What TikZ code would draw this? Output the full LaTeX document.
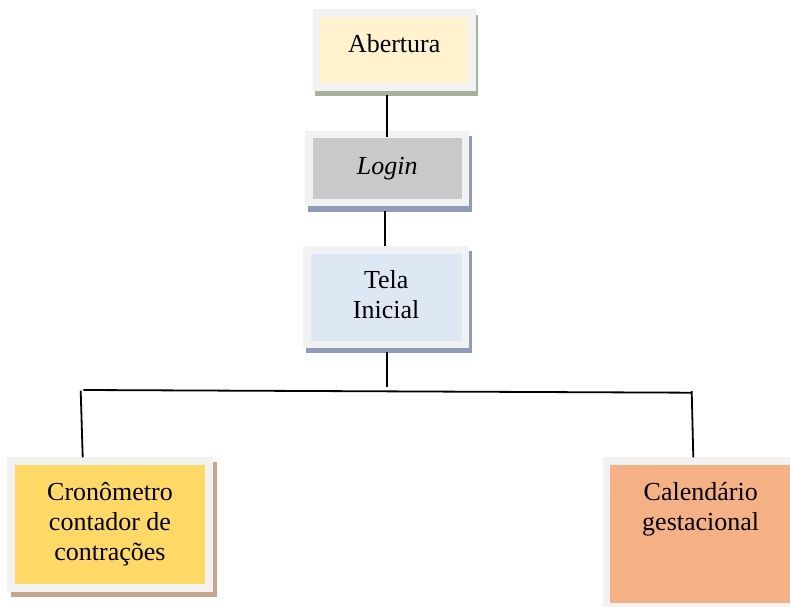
\documentclass[tikz,border=0pt]{standalone}
\usepackage{fontspec}
\setmainfont{Liberation Serif}
\usetikzlibrary{backgrounds}

\definecolor{framegray}{HTML}{F2F2F2}
\definecolor{fillAb}{HTML}{FFF2CC}
\definecolor{fillLo}{HTML}{C9C9C9}
\definecolor{fillTe}{HTML}{DEE8F4}
\definecolor{fillCr}{HTML}{FFD966}
\definecolor{fillCa}{HTML}{F4B183}
\definecolor{shadeGreen}{HTML}{A3B39C}
\definecolor{shadeBlue}{HTML}{8E9CB8}
\definecolor{shadeBrown}{HTML}{C9A58E}

\begin{document}
\begin{tikzpicture}[x=1pt,y=-1pt,
  panel/.style={draw=framegray, line width=7.5pt, outer sep=3.75pt, inner sep=0pt,
                align=center, font=\fontsize{26}{30}\selectfont},
  paneltext/.style={inner sep=0pt, outer sep=0pt, align=center,
                font=\fontsize{26}{30}\selectfont},
  conn/.style={draw=black, line width=1.8pt}]

  \useasboundingbox (0,0) rectangle (790,607);
  \clip (0,0) rectangle (790,607);

  % boxes: framed panels
  \node[panel, fill=fillAb, minimum width=155.5pt, minimum height=73.9pt]
    (ab) at (394.2,50.0) {\raisebox{3.8pt}{Abertura}\strut};
  \node[panel, fill=fillLo, minimum width=156.8pt, minimum height=67.5pt]
    (lo) at (387.2,168.5) {\textit{Login}\strut};
  \node[panel, fill=fillTe, minimum width=158.2pt, minimum height=94.8pt]
    (te) at (386.2,297.2) {Tela\strut\\Inicial\strut};
  \node[panel, fill=fillCr, minimum width=197.9pt, minimum height=126.9pt]
    (cr) at (110.0,524.5) {Cronômetro\strut\\contador de\strut\\contrações\strut};
  \node[panel, fill=fillCa, minimum width=188.5pt, minimum height=145.7pt]
    (ca) at (700.7,533.9) {};
  \node[paneltext, anchor=north] (cat) at ([yshift=-21.7pt]ca.north)
    {Calendário\strut\\gestacional\strut};

  % drop shadows behind the panels
  \begin{scope}[on background layer]
    \fill[shadeGreen] ([shift={(2.5,5.5)}]ab.north west) rectangle ([shift={(2.5,5.5)}]ab.south east);
    \fill[shadeBlue]  ([shift={(2.5,5.5)}]lo.north west) rectangle ([shift={(2.5,5.5)}]lo.south east);
    \fill[shadeBlue]  ([shift={(2.5,5.0)}]te.north west) rectangle ([shift={(2.5,5.0)}]te.south east);
    \fill[shadeBrown] ([shift={(4.0,5.0)}]cr.north west) rectangle ([shift={(4.0,5.0)}]cr.south east);
  \end{scope}

  % connector end points of the branching bus
  \coordinate (hub)   at (387.2,387.0);
  \coordinate (busL)  at (83.3,390.0);
  \coordinate (busR)  at (691.7,392.7);
  \coordinate (dropL) at (80.7,390.7);
  \coordinate (dropR) at (691.7,391.0);

  % connectors
  \draw[conn, shorten <=4pt, shorten >=-6pt] (ab.south -| lo.north) -- (lo.north);
  \draw[conn, shorten <=5pt] ([xshift=-2.5pt]lo.south) -- ([xshift=-2.5pt]lo.south |- te.north);
  \draw[conn, shorten <=4pt] (te.south -| hub) -- (hub);
  \draw[conn] (busL) -- (busR);
  \draw[conn] (dropL) -- ([xshift=-27.3pt]cr.north);
  \draw[conn] (dropR) -- ([xshift=-7.4pt]ca.north);
\end{tikzpicture}
\end{document}
